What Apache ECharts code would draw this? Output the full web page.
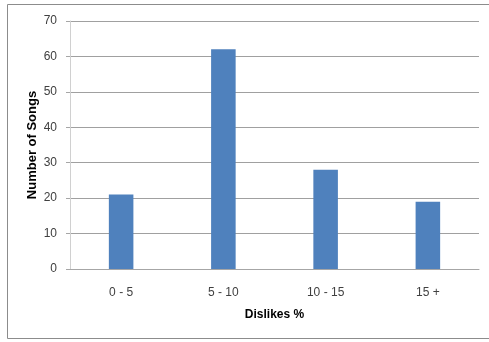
<!DOCTYPE html>
<html>
<head>
<meta charset="utf-8">
<script src="https://cdn.jsdelivr.net/npm/echarts@6/dist/echarts.min.js"></script>
<style>
  html, body { margin: 0; padding: 0; background: #fff; }
  #chart { width: 489px; height: 342px; }
</style>
</head>
<body>
<div id="chart"></div>
<script>
// Song counts per dislike-percentage bucket
const categories = ['0 - 5', '5 - 10', '10 - 15', '15 +'];
const songCounts = [21, 62, 28, 19];
const yTicks = { min: 0, max: 70, interval: 10 };

const chart = echarts.init(document.getElementById('chart'));
const font = 'Liberation Sans, Arial, sans-serif';

chart.setOption({
  animation: false,
  backgroundColor: '#fff',
  graphic: [{
    type: 'rect',
    shape: { x: 7.5, y: 4.5, width: 490, height: 334 },
    style: { fill: 'none', stroke: '#8c8c8c', lineWidth: 1 },
    silent: true
  }],
  grid: { left: 70, right: 10, top: 21, bottom: 73 },
  xAxis: {
    type: 'category',
    data: categories,
    name: 'Dislikes %',
    nameLocation: 'middle',
    nameGap: 40,
    nameMoveOverlap: false,
    nameTextStyle: { fontFamily: font, fontSize: 12, fontWeight: 'bold', color: '#000' },
    axisLine: { lineStyle: { color: '#a6a6a6' } },
    axisTick: { show: false },
    axisLabel: { fontFamily: font, fontSize: 12, color: '#404040', margin: 18 }
  },
  yAxis: {
    type: 'value',
    min: yTicks.min,
    max: yTicks.max,
    interval: yTicks.interval,
    name: 'Number of Songs',
    nameLocation: 'middle',
    nameGap: 31,
    nameMoveOverlap: false,
    nameTextStyle: { fontFamily: font, fontSize: 13, fontWeight: 'bold', color: '#000' },
    axisLine: { show: true, lineStyle: { color: '#d0d0d0' } },
    axisTick: { show: true, length: 4, lineStyle: { color: '#a6a6a6' } },
    axisLabel: { fontFamily: font, fontSize: 12, color: '#404040', margin: 13 },
    splitLine: { lineStyle: { color: '#a0a0a0' } }
  },
  series: [{
    type: 'bar',
    data: songCounts,
    barWidth: '24%',
    itemStyle: { color: '#4f81bd' }
  }]
});
</script>
</body>
</html>
